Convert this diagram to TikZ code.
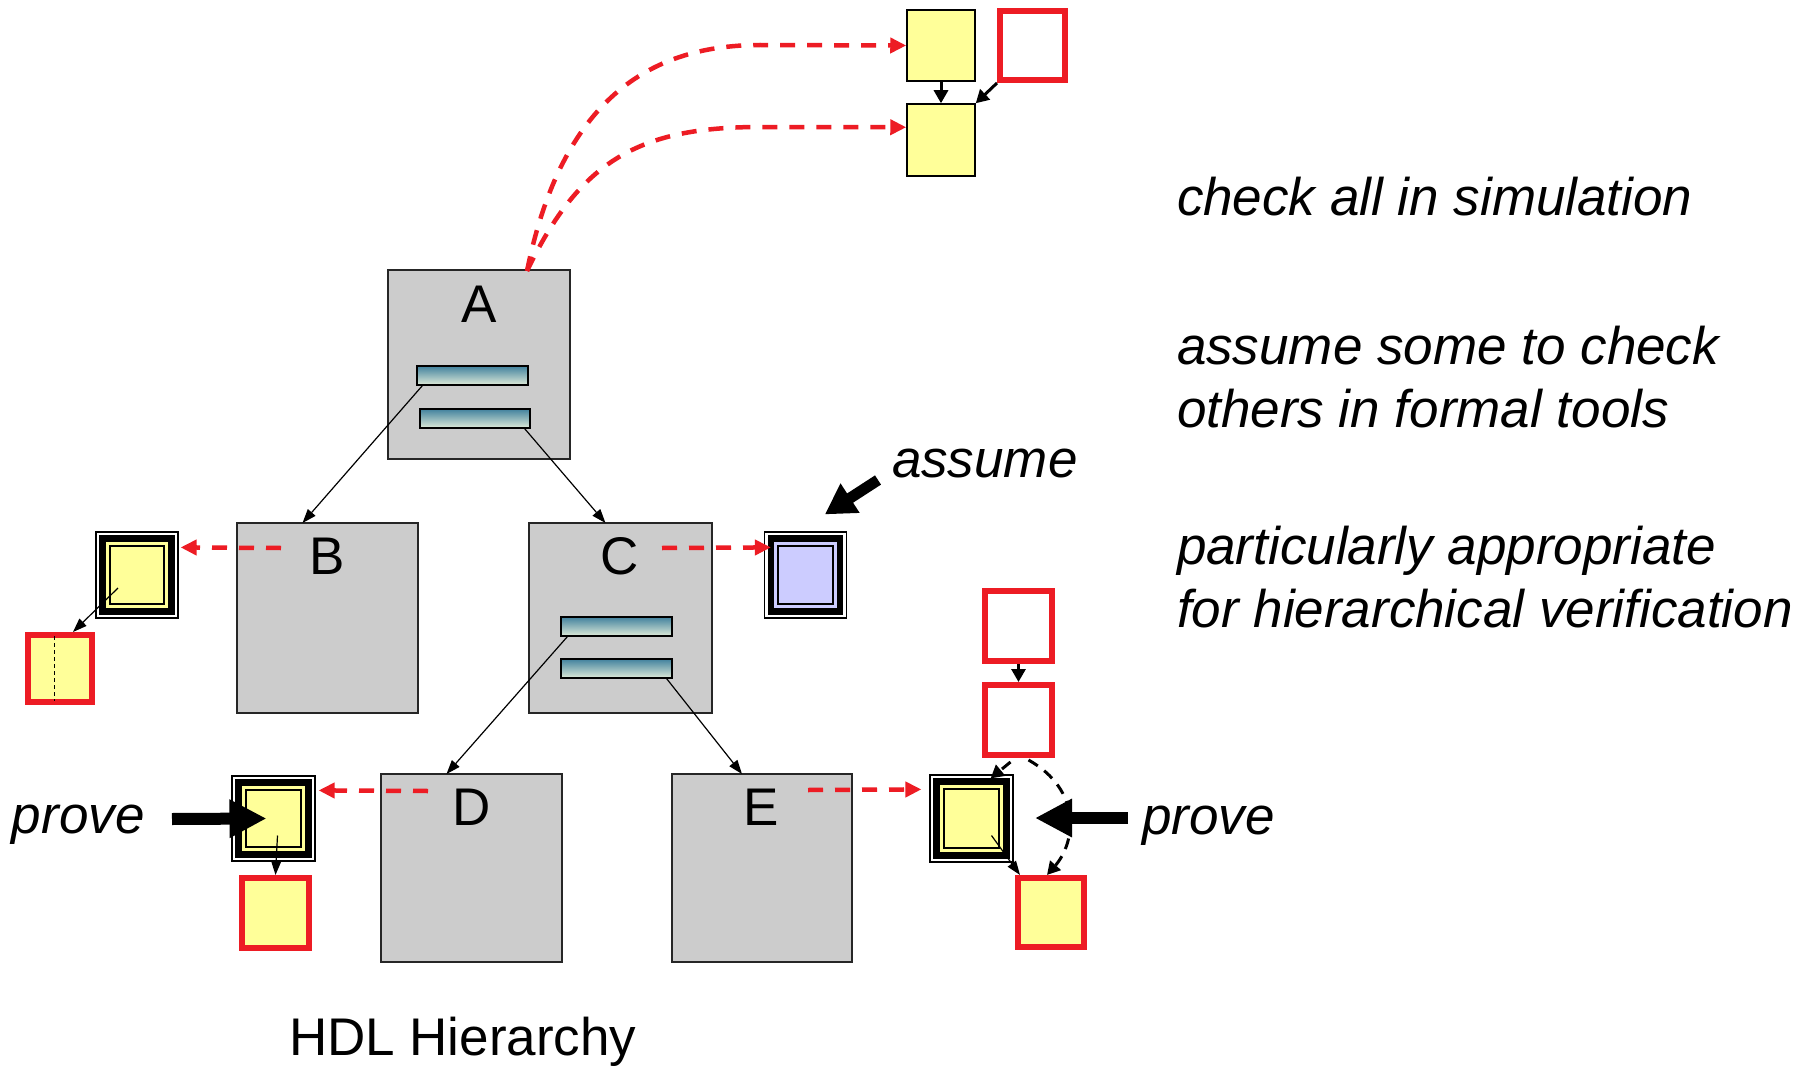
\documentclass[tikz,border=0pt]{standalone}
\usepackage{fontspec}
\setmainfont{Liberation Sans}
\usetikzlibrary{arrows.meta,calc}
\definecolor{myred}{RGB}{237,28,36}
\definecolor{myyellow}{RGB}{255,255,153}
\definecolor{mygray}{RGB}{204,204,204}
\definecolor{myblue}{RGB}{204,204,255}
\definecolor{barTop}{RGB}{66,130,158}
\definecolor{barBot}{RGB}{222,234,216}
\newcommand{\mydbl}[2]{%
  \fill[black] ($(#1.north west)+(4,4)$) rectangle ($(#1.south east)+(-4,-4)$);
  \fill[#2] ($(#1.north west)+(10.5,10.5)$) rectangle ($(#1.south east)+(-10.5,-10.5)$);
  \draw[black, line width=2pt, fill=#2] ($(#1.north west)+(14.5,14.5)$) rectangle ($(#1.south east)+(-14.5,-14.5)$);
}
\begin{document}
\begin{tikzpicture}[x=1pt,y=-1pt,
  graybox/.style={draw=black!85, line width=1.5pt, fill=mygray, inner sep=0pt, outer sep=0pt},
  barbox/.style={draw=black, line width=1.2pt, top color=barTop, bottom color=barBot, inner sep=0pt, minimum height=19pt},
  ybox/.style={draw=black, line width=1.5pt, fill=myyellow, inner sep=0pt},
  rbox/.style={draw=myred, line width=6pt, inner sep=0pt},
  dblout/.style={draw=black, line width=1.2pt, fill=white, inner sep=0pt},
  txt/.style={inner sep=0pt, outer sep=0pt, font=\fontsize{53pt}{63pt}\selectfont},
  itxt/.style={inner sep=0pt, outer sep=0pt, font=\fontsize{53pt}{63pt}\selectfont\itshape},
  reddash/.style={draw=myred, line width=4.5pt, dash pattern=on 15pt off 12pt, -{Triangle[length=16pt,width=15pt]}},
  thinarr/.style={draw=black, line width=1.2pt, -{Triangle[length=14pt,width=10pt]}},
  blkarr/.style={draw=black, line width=3pt, -{Triangle[length=13pt,width=14pt]}},
  blkdash/.style={draw=black, line width=3pt, dash pattern=on 11pt off 8pt, -{Triangle[length=13pt,width=14pt]}},
  bigarr/.style={draw=black, line width=12pt, -{Triangle[length=37pt,width=36pt]}},
  asarr/.style={draw=black, line width=11pt, -{Triangle[length=30pt,width=33pt]}}
]
\fill[white] (0,0) rectangle (1816,1070);
\useasboundingbox (0,0) rectangle (1816,1070);

% hierarchy boxes
\node[graybox, minimum width=182pt, minimum height=189pt] (A) at (479,364.5) {};
\node[graybox, minimum width=181pt, minimum height=190pt] (B) at (327.5,618) {};
\node[graybox, minimum width=183pt, minimum height=190pt] (C) at (620.5,618) {};
\node[graybox, minimum width=181pt, minimum height=188pt] (D) at (471.5,868) {};
\node[graybox, minimum width=180pt, minimum height=188pt] (E) at (762,868) {};

\node[txt, anchor=base] (Alab) at (479,322) {A};
\node[txt, anchor=base] (Blab) at (327,574) {B};
\node[txt, anchor=base] (Clab) at (620,574) {C};
\node[txt, anchor=base] (Dlab) at (472,825) {D};
\node[txt, anchor=base] (Elab) at (761,825) {E};

\node[barbox, minimum width=111pt] (Abar1) at (472.5,375.5) {};
\node[barbox, minimum width=110pt] (Abar2) at (475,418.5) {};
\node[barbox, minimum width=111pt] (Cbar1) at (616.5,626.5) {};
\node[barbox, minimum width=111pt] (Cbar2) at (616.5,668.5) {};

% top boxes
\node[ybox, minimum width=68pt, minimum height=71pt] (Y1) at (941,45.5) {};
\node[ybox, minimum width=68pt, minimum height=72pt] (Y2) at (941,140) {};
\node[rbox, minimum width=65pt, minimum height=69pt] (TR) at (1032.5,45.5) {};

% left of B
\node[dblout, minimum width=82pt, minimum height=86pt] (LB) at (137,575) {};
\mydbl{LB}{myyellow}
\node[rbox, fill=myyellow, minimum width=64pt, minimum height=67pt] (LR) at (60,668.5) {};
\draw[black, line width=1pt, dash pattern=on 4pt off 3pt] ($(LR.north)+(-6,4)$) -- ($(LR.south)+(-6,-4)$);

% right of C
\node[dblout, minimum width=82pt, minimum height=86pt] (BL) at (805.5,575) {};
\mydbl{BL}{myblue}

% left of D
\node[dblout, minimum width=83pt, minimum height=85pt] (LD) at (273.5,818.5) {};
\mydbl{LD}{myyellow}
\node[rbox, fill=myyellow, minimum width=67pt, minimum height=70pt] (LDR) at (275.5,913) {};

% right of E
\node[dblout, minimum width=83pt, minimum height=87pt] (RE) at (971.5,818.5) {};
\mydbl{RE}{myyellow}
\node[rbox, minimum width=67pt, minimum height=70pt] (R1) at (1018.5,626) {};
\node[rbox, minimum width=67pt, minimum height=70pt] (R2) at (1018.5,720) {};
\node[rbox, fill=myyellow, minimum width=66pt, minimum height=69pt] (BR) at (1051,912.5) {};

% texts
\node[itxt, anchor=base west] (t1) at (1177,215) {check all in simulation};
\node[itxt, anchor=base west] (t2) at (1177,364) {assume some to check};
\node[itxt, anchor=base west] (t3) at (1177,427) {others in formal tools};
\node[itxt, anchor=base west] (t4) at (1177,564) {particularly appropriate};
\node[itxt, anchor=base west] (t5) at (1177,627) {for hierarchical verification};
\node[itxt, anchor=base west] (assume) at (892,477) {assume};
\node[itxt, anchor=base west] (proveL) at (12,833) {prove};
\node[itxt, anchor=base west] (proveR) at (1142,834) {prove};
\node[txt, anchor=base west] (hdl) at (289,1055) {HDL Hierarchy};

% hierarchy connectors
\draw[thinarr] ([xshift=6pt]Abar1.south west) -- ([xshift=-25pt]B.north);
\draw[thinarr] ([xshift=-6pt]Abar2.south east) -- ([xshift=-15pt]C.north);
\draw[thinarr] ([xshift=7pt]Cbar1.south west) -- ([xshift=-25pt]D.north);
\draw[thinarr] ([xshift=-6pt]Cbar2.south east) -- ([xshift=-20pt]E.north);

% red dashed
\coordinate (Atop) at ($(A.north west)+(139,1)$);
\draw[reddash] (Atop) .. controls (560,110) and (640,45) .. (760,45) -- (Y1.west);
\draw[reddash] (Atop) .. controls (580,160) and (640,127) .. (760,127) -- ($(Y2.north west)+(0,24)$);
\draw[reddash] ($(B.north west)+(44,25)$) -- ($(LB.north east)+(2,16)$);
\draw[reddash] ($(C.north west)+(133,25)$) -- ($(BL.north west)+(7,16)$);
\draw[reddash] ($(D.north west)+(47,17)$) -- ($(LD.north east)+(3,15)$);
\draw[reddash] ($(E.north west)+(136,16)$) -- ($(RE.north west)+(-8,15)$);

% black small arrows
\draw[blkarr] (Y1.south) -- (Y2.north);
\draw[blkarr] (TR.south west) -- (Y2.north east);
\draw[blkarr] (R1.south) -- (R2.north);
\draw[blkdash] ($(R2.south)+(-8,4)$) -- ($(RE.north east)+(-23,4)$);
\draw[blkdash] ($(R2.south)+(10,2)$) .. controls (1082,790) and (1076,842) .. ($(BR.north)+(-4,0)$);

% inner thin arrows
\draw[thinarr] ($(LB.center)+(-19,13)$) -- ([xshift=13pt]LR.north);
\draw[thinarr] ($(LD.center)+(4,17)$) -- (LDR.north);
\draw[thinarr] ($(RE.center)+(20,17)$) -- ($(BR.north west)+(5,0)$);

% big arrows
\coordinate (pls) at (172,819);
\draw[bigarr] (pls) -- ([xshift=-7pt]LD.center);
\coordinate (prs) at (1128,818);
\coordinate (pre) at (1035,818);
\draw[bigarr] (prs) -- (pre);
\coordinate (as1) at (878,480);
\draw[asarr] (as1) -- ($(BL.north west)+(61,-17)$);
\end{tikzpicture}
\end{document}
